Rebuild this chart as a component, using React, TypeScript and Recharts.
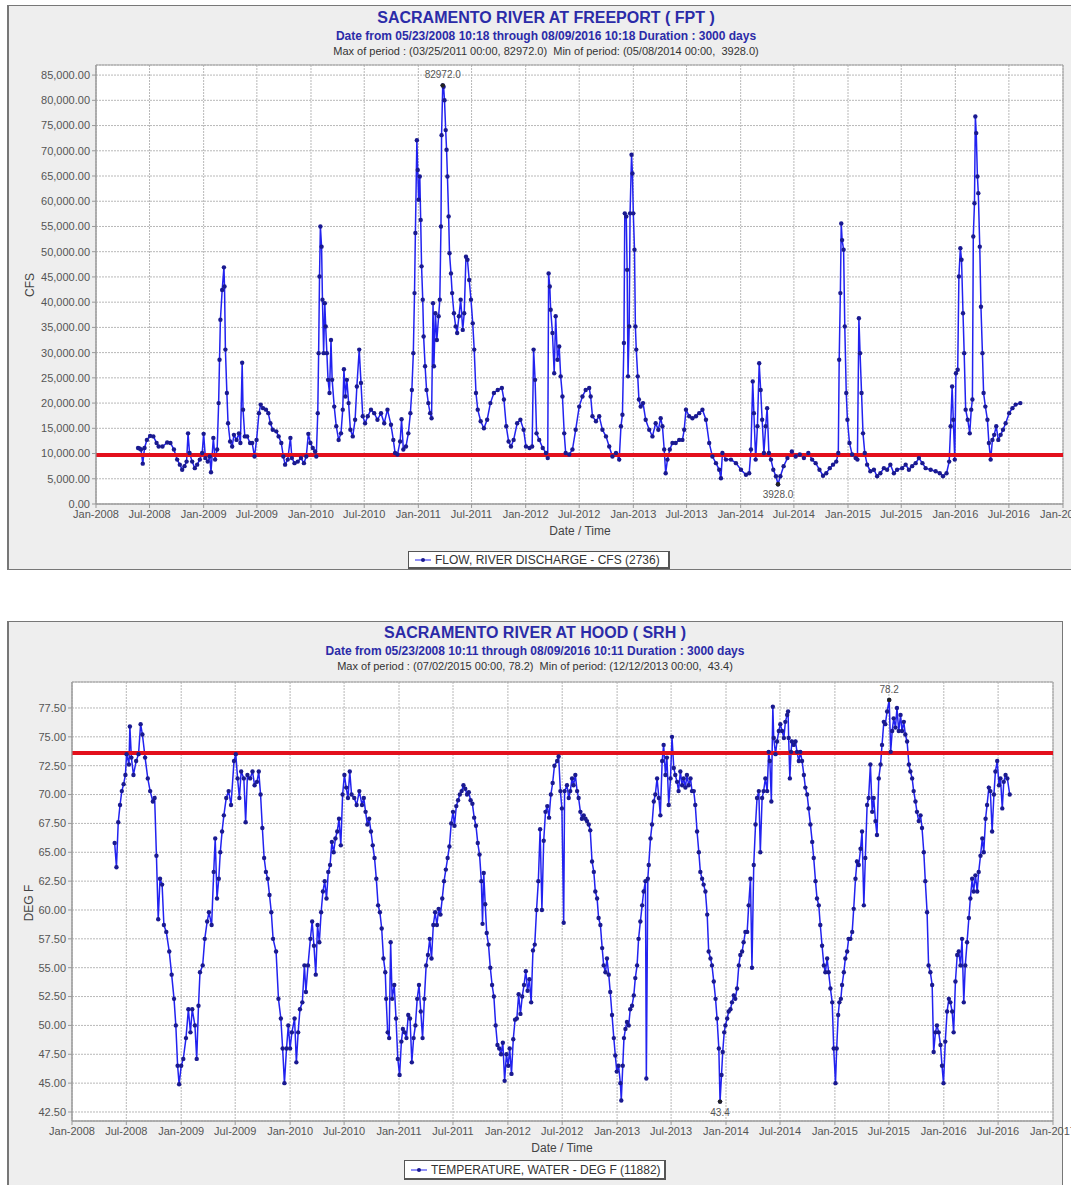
import React from 'react';
import { LineChart, Line, XAxis, YAxis, CartesianGrid, ReferenceLine, ReferenceDot, ReferenceArea } from 'recharts';

type Pt = [string, number];

// ---- Sacramento River at Freeport, flow (CFS) ----
const flow2008: Pt[] = [
  ['2008-05-23', 11100], ['2008-05-28', 11000], ['2008-06-02', 10800], ['2008-06-08', 8000], ['2008-06-14', 11100],
  ['2008-06-22', 12700], ['2008-07-03', 13500], ['2008-07-14', 13400], ['2008-07-25', 12100], ['2008-08-01', 11400],
  ['2008-08-14', 11400], ['2008-08-30', 12200], ['2008-09-10', 12100], ['2008-09-22', 10800], ['2008-10-03', 8800],
  ['2008-10-12', 7800], ['2008-10-20', 6800], ['2008-10-28', 7500], ['2008-11-04', 8400], ['2008-11-09', 14000],
  ['2008-11-14', 10100], ['2008-11-23', 8400], ['2008-12-02', 7100], ['2008-12-10', 7800], ['2008-12-19', 8800],
  ['2008-12-27', 10100],
];
const flow2009: Pt[] = [
  ['2009-01-01', 13900], ['2009-01-07', 9100], ['2009-01-15', 8400], ['2009-01-22', 9400], ['2009-01-26', 6300],
  ['2009-02-03', 13100], ['2009-02-09', 8800], ['2009-02-16', 10800], ['2009-02-21', 20000], ['2009-02-24', 28600],
  ['2009-02-27', 36500], ['2009-03-05', 42400], ['2009-03-11', 46900], ['2009-03-13', 43100], ['2009-03-16', 30600],
  ['2009-03-21', 22000], ['2009-03-25', 16000], ['2009-04-01', 12400], ['2009-04-08', 11400], ['2009-04-14', 13700],
  ['2009-04-23', 12700], ['2009-05-01', 14000], ['2009-05-06', 12100], ['2009-05-12', 28000], ['2009-05-15', 18700],
  ['2009-05-21', 13400], ['2009-05-29', 13400], ['2009-06-08', 12100], ['2009-06-15', 12100], ['2009-06-23', 9400],
  ['2009-06-30', 12700], ['2009-07-08', 18000], ['2009-07-14', 19700], ['2009-07-22', 19000], ['2009-08-01', 18700],
  ['2009-08-09', 18000], ['2009-08-16', 16000], ['2009-08-24', 14700], ['2009-09-05', 14400], ['2009-09-13', 13400],
  ['2009-09-22', 12100], ['2009-09-29', 9400], ['2009-10-05', 7800], ['2009-10-14', 8800], ['2009-10-23', 13100],
  ['2009-10-28', 9100], ['2009-11-06', 8100], ['2009-11-17', 8400], ['2009-11-28', 9100], ['2009-12-08', 8100],
  ['2009-12-16', 9400], ['2009-12-23', 13900], ['2009-12-30', 12100],
];
const flow2010: Pt[] = [
  ['2010-01-07', 11100], ['2010-01-15', 10400], ['2010-01-19', 9400], ['2010-01-24', 18000], ['2010-01-27', 29900],
  ['2010-01-30', 45100], ['2010-02-02', 55000], ['2010-02-06', 51000], ['2010-02-09', 40500], ['2010-02-13', 29900],
  ['2010-02-17', 39800], ['2010-02-20', 35200], ['2010-02-24', 29900], ['2010-02-28', 24600], ['2010-03-05', 22000],
  ['2010-03-10', 32500], ['2010-03-14', 24600], ['2010-03-21', 19300], ['2010-03-28', 15400], ['2010-04-05', 12700],
  ['2010-04-13', 14000], ['2010-04-19', 18700], ['2010-04-23', 26700], ['2010-04-28', 21300], ['2010-05-03', 24600],
  ['2010-05-09', 20000], ['2010-05-15', 14700], ['2010-05-23', 13400], ['2010-05-31', 16700], ['2010-06-06', 23300],
  ['2010-06-14', 30600], ['2010-06-20', 24000], ['2010-06-26', 17400], ['2010-07-04', 16000], ['2010-07-13', 17400],
  ['2010-07-24', 18700], ['2010-08-04', 18000], ['2010-08-15', 16700], ['2010-08-27', 18000], ['2010-09-07', 16000],
  ['2010-09-18', 18700], ['2010-09-30', 15700], ['2010-10-08', 12700], ['2010-10-14', 10100], ['2010-10-22', 9800],
  ['2010-10-31', 12400], ['2010-11-05', 16800], ['2010-11-11', 10800], ['2010-11-20', 11400], ['2010-11-28', 14000],
  ['2010-12-05', 18000], ['2010-12-10', 22600], ['2010-12-15', 29900], ['2010-12-19', 41800], ['2010-12-22', 53700],
  ['2010-12-27', 72100], ['2010-12-30', 66200],
];
const flow2011: Pt[] = [
  ['2011-01-02', 60300], ['2011-01-06', 64900], ['2011-01-09', 56300], ['2011-01-12', 47100], ['2011-01-16', 40500],
  ['2011-01-19', 33200], ['2011-01-24', 27300], ['2011-01-29', 22600], ['2011-02-04', 20000], ['2011-02-10', 18000],
  ['2011-02-15', 17000], ['2011-02-20', 39800], ['2011-02-23', 27300], ['2011-02-28', 37800], ['2011-03-05', 32500],
  ['2011-03-11', 37200], ['2011-03-15', 40500], ['2011-03-19', 55000], ['2011-03-21', 73100], ['2011-03-25', 82972],
  ['2011-03-28', 82700], ['2011-03-31', 80000], ['2011-04-04', 74100], ['2011-04-07', 70200], ['2011-04-10', 64900],
  ['2011-04-14', 57000], ['2011-04-17', 49700], ['2011-04-22', 45700], ['2011-04-26', 41800], ['2011-05-02', 37800],
  ['2011-05-08', 35200], ['2011-05-13', 33900], ['2011-05-19', 37200], ['2011-05-25', 40500], ['2011-06-01', 34500],
  ['2011-06-06', 37800], ['2011-06-12', 49000], ['2011-06-17', 48400], ['2011-06-23', 44400], ['2011-06-29', 40500],
  ['2011-07-05', 35800], ['2011-07-10', 30600], ['2011-07-16', 22000], ['2011-07-22', 18700], ['2011-08-01', 16400],
  ['2011-08-12', 15000], ['2011-08-23', 16700], ['2011-09-03', 20000], ['2011-09-15', 22000], ['2011-09-28', 22600],
  ['2011-10-12', 23000], ['2011-10-19', 20700], ['2011-10-27', 15400], ['2011-11-04', 12400], ['2011-11-12', 11400],
  ['2011-11-21', 12700], ['2011-12-03', 16000], ['2011-12-14', 16700], ['2011-12-25', 14700],
];
const flow2012: Pt[] = [
  ['2012-01-02', 11400], ['2012-01-14', 11100], ['2012-01-23', 11400], ['2012-01-28', 30600], ['2012-02-02', 24600],
  ['2012-02-07', 14000], ['2012-02-16', 12700], ['2012-02-28', 11100], ['2012-03-10', 10100], ['2012-03-16', 9100],
  ['2012-03-19', 45700], ['2012-03-23', 43100], ['2012-03-26', 38500], ['2012-04-01', 33900], ['2012-04-07', 25900],
  ['2012-04-12', 37200], ['2012-04-18', 28600], ['2012-04-24', 31200], ['2012-04-29', 25300], ['2012-05-05', 21300],
  ['2012-05-11', 14000], ['2012-05-16', 10100], ['2012-05-28', 9800], ['2012-06-08', 10800], ['2012-06-19', 14700],
  ['2012-07-01', 19300], ['2012-07-12', 21300], ['2012-07-23', 22600], ['2012-08-04', 23000], ['2012-08-09', 21300],
  ['2012-08-15', 17400], ['2012-08-27', 16400], ['2012-09-07', 17400], ['2012-09-18', 14700], ['2012-09-30', 13400],
  ['2012-10-11', 11400], ['2012-10-22', 9400], ['2012-11-03', 10100], ['2012-11-14', 8800], ['2012-11-20', 15400],
  ['2012-11-25', 17700], ['2012-11-30', 31900], ['2012-12-03', 57600], ['2012-12-08', 57000], ['2012-12-11', 46400],
  ['2012-12-14', 25300], ['2012-12-18', 35200], ['2012-12-21', 57600], ['2012-12-26', 69200], ['2012-12-29', 65500],
];
const flow2013: Pt[] = [
  ['2013-01-01', 57600], ['2013-01-05', 50400], ['2013-01-08', 35200], ['2013-01-11', 30600], ['2013-01-16', 25300],
  ['2013-01-20', 20700], ['2013-01-26', 19300], ['2013-02-03', 20000], ['2013-02-12', 16700], ['2013-02-24', 14700],
  ['2013-03-07', 13400], ['2013-03-18', 16000], ['2013-03-27', 14700], ['2013-04-04', 17000], ['2013-04-10', 15400],
  ['2013-04-16', 10800], ['2013-04-21', 6100], ['2013-04-27', 8800], ['2013-05-05', 10800], ['2013-05-14', 12100],
  ['2013-05-25', 12100], ['2013-06-06', 12700], ['2013-06-17', 12700], ['2013-06-23', 14700], ['2013-06-29', 18700],
  ['2013-07-10', 17400], ['2013-07-21', 17000], ['2013-08-02', 17400], ['2013-08-13', 18000], ['2013-08-24', 18700],
  ['2013-09-05', 16700], ['2013-09-16', 12100], ['2013-09-27', 9400], ['2013-10-09', 8100], ['2013-10-20', 6800],
  ['2013-10-26', 5100], ['2013-10-31', 10100], ['2013-11-12', 8800], ['2013-11-29', 8800], ['2013-12-16', 8100],
];
const flow2014: Pt[] = [
  ['2014-01-02', 6800], ['2014-01-19', 5800], ['2014-01-30', 6100], ['2014-02-05', 10800], ['2014-02-11', 24300],
  ['2014-02-15', 18000], ['2014-02-21', 8800], ['2014-02-27', 15400], ['2014-03-05', 27900], ['2014-03-10', 22600],
  ['2014-03-15', 16700], ['2014-03-21', 10100], ['2014-03-27', 15400], ['2014-04-01', 19000], ['2014-04-07', 10100],
  ['2014-04-14', 8800], ['2014-04-22', 6800], ['2014-05-01', 5500], ['2014-05-08', 3928], ['2014-05-16', 5500],
  ['2014-05-27', 7500], ['2014-06-09', 9100], ['2014-06-24', 10400], ['2014-07-07', 9400], ['2014-07-21', 9800],
  ['2014-08-04', 9100], ['2014-08-19', 10100], ['2014-09-01', 8800], ['2014-09-13', 8100], ['2014-09-26', 6800],
  ['2014-10-08', 5600], ['2014-10-19', 6100], ['2014-10-31', 7100], ['2014-11-11', 7800], ['2014-11-22', 8400],
  ['2014-11-29', 10100], ['2014-12-02', 28600], ['2014-12-06', 41800], ['2014-12-09', 55600], ['2014-12-12', 52300],
  ['2014-12-17', 50400], ['2014-12-21', 35200], ['2014-12-26', 22000], ['2014-12-30', 16700],
];
const flow2015: Pt[] = [
  ['2015-01-06', 12100], ['2015-01-15', 9800], ['2015-01-27', 9100], ['2015-02-02', 8800], ['2015-02-07', 36800],
  ['2015-02-11', 29900], ['2015-02-16', 22000], ['2015-02-21', 14000], ['2015-02-27', 10100], ['2015-03-07', 7800],
  ['2015-03-18', 6500], ['2015-03-30', 6800], ['2015-04-10', 5500], ['2015-04-21', 6100], ['2015-05-03', 7100],
  ['2015-05-14', 6800], ['2015-05-25', 7800], ['2015-06-06', 6100], ['2015-06-17', 6800], ['2015-07-04', 7100],
  ['2015-07-16', 7800], ['2015-07-27', 6800], ['2015-08-07', 7500], ['2015-08-19', 8100], ['2015-08-30', 9100],
  ['2015-09-11', 8100], ['2015-09-22', 7100], ['2015-10-09', 6800], ['2015-10-26', 6500], ['2015-11-09', 6100],
  ['2015-11-20', 5500], ['2015-12-02', 6100], ['2015-12-11', 8400], ['2015-12-16', 15400], ['2015-12-21', 23300],
  ['2015-12-25', 16700], ['2015-12-30', 8800],
];
const flow2016: Pt[] = [
  ['2016-01-03', 25900], ['2016-01-09', 26600], ['2016-01-13', 45100], ['2016-01-18', 50700], ['2016-01-22', 48400],
  ['2016-01-27', 37800], ['2016-01-31', 29900], ['2016-02-05', 18700], ['2016-02-12', 16700], ['2016-02-19', 14000],
  ['2016-02-24', 18700], ['2016-02-28', 20700], ['2016-03-02', 53000], ['2016-03-06', 59600], ['2016-03-09', 76800],
  ['2016-03-12', 73500], ['2016-03-16', 64900], ['2016-03-19', 61600], ['2016-03-24', 51000], ['2016-03-28', 39100],
  ['2016-04-02', 29900], ['2016-04-06', 22000], ['2016-04-12', 19300], ['2016-04-19', 16700], ['2016-04-24', 12100],
  ['2016-04-30', 8800], ['2016-05-06', 12700], ['2016-05-12', 13700], ['2016-05-19', 15400], ['2016-05-26', 12700],
  ['2016-06-03', 13700], ['2016-06-11', 14700], ['2016-06-20', 16000], ['2016-07-02', 18000], ['2016-07-13', 19000],
  ['2016-07-24', 19700], ['2016-08-09', 20000],
];

// ---- Sacramento River at Hood, water temperature (DEG F) ----
const temp2008: Pt[] = [
  ['2008-05-23', 65.8], ['2008-05-29', 63.7], ['2008-06-04', 67.6], ['2008-06-10', 69.1], ['2008-06-16', 70.3],
  ['2008-06-22', 70.9], ['2008-06-28', 71.7], ['2008-07-02', 73.5], ['2008-07-10', 72.6], ['2008-07-13', 75.9],
  ['2008-07-18', 73.2], ['2008-07-25', 71.7], ['2008-08-03', 72.9], ['2008-08-11', 73.5], ['2008-08-18', 76.1],
  ['2008-08-24', 75.2], ['2008-09-02', 73.2], ['2008-09-11', 71.4], ['2008-09-19', 70.3], ['2008-09-28', 69.4],
  ['2008-10-04', 69.7], ['2008-10-10', 64.7], ['2008-10-16', 59.2], ['2008-10-22', 62.7], ['2008-10-29', 62.2],
  ['2008-11-04', 58.7], ['2008-11-12', 58.1], ['2008-11-22', 56.4], ['2008-11-30', 54.4], ['2008-12-08', 52.3],
  ['2008-12-14', 50.0], ['2008-12-20', 46.5], ['2008-12-25', 44.9],
];
const temp2009: Pt[] = [
  ['2009-01-01', 46.5], ['2009-01-08', 47.1], ['2009-01-17', 48.9], ['2009-01-25', 51.4], ['2009-02-01', 49.4],
  ['2009-02-07', 51.4], ['2009-02-16', 50.0], ['2009-02-22', 47.1], ['2009-02-28', 51.7], ['2009-03-05', 54.6],
  ['2009-03-14', 55.2], ['2009-03-21', 57.5], ['2009-03-29', 59.0], ['2009-04-04', 59.8], ['2009-04-13', 58.7],
  ['2009-04-20', 63.3], ['2009-04-25', 66.2], ['2009-05-01', 61.0], ['2009-05-07', 62.7], ['2009-05-12', 65.0],
  ['2009-05-18', 66.8], ['2009-05-24', 68.2], ['2009-06-01', 69.7], ['2009-06-09', 70.3], ['2009-06-17', 69.1],
  ['2009-06-27', 72.9], ['2009-07-03', 73.5], ['2009-07-09', 71.4], ['2009-07-15', 69.7], ['2009-07-21', 72.0],
  ['2009-07-30', 71.4], ['2009-08-05', 67.6], ['2009-08-11', 71.7], ['2009-08-20', 71.4], ['2009-08-28', 72.0],
  ['2009-09-04', 70.8], ['2009-09-12', 71.1], ['2009-09-18', 72.0], ['2009-09-24', 70.0], ['2009-09-30', 67.1],
  ['2009-10-06', 64.5], ['2009-10-12', 63.3], ['2009-10-18', 62.7], ['2009-10-24', 61.3], ['2009-10-30', 59.8],
  ['2009-11-05', 57.5], ['2009-11-15', 56.4], ['2009-11-23', 52.3], ['2009-12-01', 50.6], ['2009-12-07', 48.0],
  ['2009-12-13', 45.0], ['2009-12-20', 48.0], ['2009-12-26', 50.0],
];
const temp2010: Pt[] = [
  ['2010-01-01', 48.0], ['2010-01-07', 49.4], ['2010-01-16', 50.6], ['2010-01-22', 46.8], ['2010-01-28', 49.4],
  ['2010-02-03', 51.4], ['2010-02-11', 52.0], ['2010-02-18', 55.2], ['2010-02-23', 52.9], ['2010-03-02', 55.2],
  ['2010-03-10', 57.5], ['2010-03-16', 59.0], ['2010-03-22', 56.9], ['2010-03-28', 54.4], ['2010-04-03', 58.7],
  ['2010-04-09', 57.2], ['2010-04-15', 59.8], ['2010-04-21', 61.6], ['2010-04-27', 62.5], ['2010-05-03', 61.0],
  ['2010-05-09', 63.3], ['2010-05-15', 63.9], ['2010-05-21', 65.9], ['2010-05-27', 65.0], ['2010-06-02', 66.2],
  ['2010-06-08', 66.8], ['2010-06-14', 67.9], ['2010-06-20', 65.6], ['2010-06-26', 70.0], ['2010-07-02', 71.7],
  ['2010-07-08', 70.6], ['2010-07-14', 69.7], ['2010-07-20', 72.0], ['2010-07-26', 70.0], ['2010-08-04', 69.7],
  ['2010-08-12', 69.1], ['2010-08-21', 70.3], ['2010-08-30', 69.1], ['2010-09-05', 69.7], ['2010-09-11', 68.5],
  ['2010-09-17', 67.4], ['2010-09-23', 67.9], ['2010-09-29', 66.8], ['2010-10-05', 65.6], ['2010-10-11', 64.5],
  ['2010-10-17', 62.7], ['2010-10-23', 60.4], ['2010-10-29', 59.8], ['2010-11-04', 58.4], ['2010-11-10', 55.8],
  ['2010-11-16', 54.6], ['2010-11-19', 52.3], ['2010-11-24', 49.4], ['2010-11-29', 48.9], ['2010-12-04', 57.2],
  ['2010-12-09', 52.3], ['2010-12-16', 53.5], ['2010-12-22', 50.6], ['2010-12-28', 47.1],
];
const temp2011: Pt[] = [
  ['2011-01-03', 45.7], ['2011-01-09', 48.6], ['2011-01-14', 49.7], ['2011-01-20', 49.4], ['2011-01-26', 48.9],
  ['2011-02-01', 50.9], ['2011-02-07', 50.6], ['2011-02-13', 46.8], ['2011-02-19', 48.9], ['2011-02-25', 50.0],
  ['2011-03-03', 52.3], ['2011-03-09', 53.5], ['2011-03-15', 51.2], ['2011-03-21', 48.9], ['2011-03-27', 52.3],
  ['2011-04-02', 55.2], ['2011-04-08', 56.1], ['2011-04-14', 57.5], ['2011-04-20', 55.8], ['2011-04-26', 58.7],
  ['2011-05-02', 59.8], ['2011-05-08', 58.7], ['2011-05-14', 60.1], ['2011-05-20', 59.6], ['2011-05-26', 61.0],
  ['2011-06-01', 62.5], ['2011-06-07', 63.5], ['2011-06-13', 64.5], ['2011-06-19', 65.5], ['2011-06-25', 67.5],
  ['2011-07-01', 68.5], ['2011-07-06', 67.3], ['2011-07-12', 69.0], ['2011-07-18', 69.5], ['2011-07-24', 70.0],
  ['2011-07-30', 70.3], ['2011-08-05', 70.8], ['2011-08-11', 70.5], ['2011-08-17', 70.0], ['2011-08-23', 70.2],
  ['2011-08-29', 69.5], ['2011-09-04', 69.2], ['2011-09-10', 68.0], ['2011-09-16', 67.3], ['2011-09-22', 65.8],
  ['2011-09-28', 64.8], ['2011-10-04', 62.5], ['2011-10-08', 58.8], ['2011-10-12', 63.2], ['2011-10-17', 60.5],
  ['2011-10-22', 58.0], ['2011-10-28', 57.0], ['2011-11-03', 55.0], ['2011-11-09', 53.5], ['2011-11-15', 52.5],
  ['2011-11-21', 50.0], ['2011-11-27', 48.3], ['2011-12-03', 48.0], ['2011-12-09', 47.5], ['2011-12-15', 48.5],
  ['2011-12-21', 45.2], ['2011-12-27', 47.5],
];
const temp2012: Pt[] = [
  ['2012-01-02', 46.5], ['2012-01-07', 48.0], ['2012-01-13', 45.8], ['2012-01-19', 48.8], ['2012-01-25', 50.5],
  ['2012-01-31', 50.6], ['2012-02-06', 52.7], ['2012-02-12', 51.0], ['2012-02-18', 52.5], ['2012-02-24', 53.5],
  ['2012-03-01', 54.7], ['2012-03-07', 53.0], ['2012-03-13', 54.0], ['2012-03-19', 52.0], ['2012-03-25', 56.5],
  ['2012-03-31', 57.0], ['2012-04-06', 60.0], ['2012-04-12', 62.5], ['2012-04-18', 67.0], ['2012-04-24', 60.0],
  ['2012-04-30', 66.0], ['2012-05-06', 68.5], ['2012-05-12', 69.0], ['2012-05-18', 68.0], ['2012-05-24', 70.0],
  ['2012-05-30', 71.0], ['2012-06-05', 72.5], ['2012-06-14', 72.9], ['2012-06-19', 73.3], ['2012-06-25', 70.3],
  ['2012-06-30', 68.8], ['2012-07-06', 58.9], ['2012-07-09', 70.3], ['2012-07-17', 70.8], ['2012-07-23', 69.7],
  ['2012-07-28', 70.3], ['2012-08-03', 71.4], ['2012-08-08', 70.8], ['2012-08-14', 71.7], ['2012-08-20', 70.3],
  ['2012-08-25', 69.7], ['2012-08-31', 68.5], ['2012-09-05', 67.9], ['2012-09-11', 68.2], ['2012-09-17', 67.9],
  ['2012-09-22', 67.7], ['2012-09-28', 67.4], ['2012-10-03', 66.9], ['2012-10-09', 64.2], ['2012-10-15', 63.3],
  ['2012-10-20', 61.6], ['2012-10-26', 61.0], ['2012-10-31', 59.3], ['2012-11-06', 58.7], ['2012-11-12', 56.7],
  ['2012-11-17', 55.2], ['2012-11-23', 54.6], ['2012-11-28', 55.8], ['2012-12-04', 54.4], ['2012-12-09', 52.9],
  ['2012-12-15', 50.9], ['2012-12-21', 48.9], ['2012-12-26', 47.4], ['2012-12-31', 46.0],
];
const temp2013: Pt[] = [
  ['2013-01-06', 46.5], ['2013-01-12', 45.0], ['2013-01-15', 43.5], ['2013-01-20', 46.5], ['2013-01-24', 48.9],
  ['2013-01-29', 49.7], ['2013-02-03', 50.3], ['2013-02-09', 50.0], ['2013-02-14', 51.4], ['2013-02-20', 51.7],
  ['2013-02-26', 52.6], ['2013-03-03', 54.1], ['2013-03-09', 55.2], ['2013-03-14', 57.5], ['2013-03-20', 59.0],
  ['2013-03-26', 60.4], ['2013-03-31', 61.6], ['2013-04-06', 62.5], ['2013-04-09', 45.4], ['2013-04-14', 62.7],
  ['2013-04-17', 63.9], ['2013-04-23', 66.2], ['2013-04-28', 67.4], ['2013-05-04', 69.4], ['2013-05-09', 70.0],
  ['2013-05-15', 71.4], ['2013-05-21', 69.7], ['2013-05-26', 68.2], ['2013-06-01', 72.9], ['2013-06-06', 74.3],
  ['2013-06-12', 71.7], ['2013-06-17', 73.2], ['2013-06-23', 69.1], ['2013-06-29', 71.4], ['2013-07-04', 75.0],
  ['2013-07-10', 72.3], ['2013-07-15', 71.7], ['2013-07-21', 71.1], ['2013-07-26', 70.3], ['2013-08-01', 72.0],
  ['2013-08-07', 70.8], ['2013-08-12', 71.4], ['2013-08-18', 70.6], ['2013-08-23', 71.7], ['2013-08-29', 70.8],
  ['2013-09-04', 71.4], ['2013-09-09', 70.3], ['2013-09-15', 70.3], ['2013-09-20', 69.1], ['2013-09-26', 66.8],
  ['2013-10-02', 65.0], ['2013-10-07', 63.3], ['2013-10-13', 62.7], ['2013-10-18', 62.2], ['2013-10-24', 61.6],
  ['2013-10-30', 59.6], ['2013-11-04', 56.4], ['2013-11-10', 55.8], ['2013-11-15', 55.2], ['2013-11-21', 53.8],
  ['2013-11-27', 52.3], ['2013-12-02', 50.6], ['2013-12-08', 48.0], ['2013-12-12', 43.4], ['2013-12-17', 45.7],
  ['2013-12-21', 47.7], ['2013-12-26', 49.4], ['2013-12-30', 50.0],
];
const temp2014: Pt[] = [
  ['2014-01-05', 50.6], ['2014-01-10', 51.2], ['2014-01-16', 51.4], ['2014-01-21', 52.0], ['2014-01-27', 52.6],
  ['2014-02-01', 52.3], ['2014-02-07', 53.2], ['2014-02-13', 55.2], ['2014-02-18', 56.1], ['2014-02-24', 56.4],
  ['2014-03-01', 57.2], ['2014-03-07', 58.1], ['2014-03-13', 58.1], ['2014-03-18', 60.4], ['2014-03-24', 62.7],
  ['2014-03-29', 55.0], ['2014-04-04', 63.9], ['2014-04-10', 67.4], ['2014-04-15', 69.7], ['2014-04-21', 70.3],
  ['2014-04-26', 65.0], ['2014-05-02', 69.7], ['2014-05-07', 70.3], ['2014-05-13', 71.4], ['2014-05-19', 70.3],
  ['2014-05-24', 73.7], ['2014-05-28', 72.9], ['2014-06-02', 69.4], ['2014-06-07', 77.6], ['2014-06-10', 74.9],
  ['2014-06-16', 73.5], ['2014-06-21', 74.6], ['2014-06-27', 75.5], ['2014-07-02', 76.1], ['2014-07-08', 75.5],
  ['2014-07-14', 74.9], ['2014-07-19', 76.3], ['2014-07-25', 76.9], ['2014-07-28', 77.2], ['2014-07-30', 74.9],
  ['2014-08-03', 71.4], ['2014-08-07', 73.7], ['2014-08-10', 74.6], ['2014-08-16', 74.3], ['2014-08-22', 74.6],
  ['2014-08-27', 73.7], ['2014-09-02', 72.9], ['2014-09-07', 73.7], ['2014-09-13', 72.9], ['2014-09-19', 71.7],
  ['2014-09-24', 70.6], ['2014-09-30', 70.0], ['2014-10-05', 68.8], ['2014-10-11', 67.4], ['2014-10-17', 65.9],
  ['2014-10-22', 64.5], ['2014-10-28', 62.5], ['2014-11-02', 61.0], ['2014-11-08', 60.4], ['2014-11-13', 58.7],
  ['2014-11-19', 56.9], ['2014-11-25', 55.2], ['2014-11-30', 54.6], ['2014-12-06', 55.8], ['2014-12-11', 54.6],
  ['2014-12-17', 53.2], ['2014-12-23', 52.0], ['2014-12-28', 48.0],
];
const temp2015: Pt[] = [
  ['2015-01-03', 45.0], ['2015-01-07', 48.0], ['2015-01-12', 50.9], ['2015-01-16', 52.0], ['2015-01-21', 52.3],
  ['2015-01-25', 53.5], ['2015-01-31', 54.6], ['2015-02-05', 55.8], ['2015-02-11', 56.4], ['2015-02-16', 57.5],
  ['2015-02-22', 57.5], ['2015-02-28', 58.1], ['2015-03-05', 60.1], ['2015-03-11', 62.7], ['2015-03-16', 64.2],
  ['2015-03-22', 63.9], ['2015-03-28', 65.3], ['2015-04-02', 66.8], ['2015-04-08', 60.4], ['2015-04-13', 64.5],
  ['2015-04-19', 69.1], ['2015-04-24', 69.7], ['2015-04-30', 72.6], ['2015-05-06', 68.5], ['2015-05-11', 69.7],
  ['2015-05-17', 67.7], ['2015-05-22', 66.5], ['2015-05-28', 71.4], ['2015-06-03', 72.6], ['2015-06-08', 74.3],
  ['2015-06-14', 76.3], ['2015-06-19', 76.1], ['2015-06-25', 77.2], ['2015-07-02', 78.2], ['2015-07-07', 73.7],
  ['2015-07-12', 75.5], ['2015-07-17', 76.6], ['2015-07-23', 75.8], ['2015-07-28', 77.5], ['2015-08-03', 75.5],
  ['2015-08-09', 76.9], ['2015-08-14', 75.5], ['2015-08-20', 76.3], ['2015-08-25', 75.2], ['2015-08-31', 74.6],
  ['2015-09-06', 72.6], ['2015-09-11', 72.0], ['2015-09-17', 71.4], ['2015-09-22', 70.3], ['2015-09-28', 69.4],
  ['2015-10-03', 68.5], ['2015-10-09', 67.7], ['2015-10-15', 68.2], ['2015-10-20', 67.1], ['2015-10-26', 65.0],
  ['2015-10-31', 62.5], ['2015-11-06', 59.8], ['2015-11-11', 55.2], ['2015-11-17', 54.6], ['2015-11-23', 53.5],
  ['2015-11-28', 47.7], ['2015-12-04', 49.4], ['2015-12-09', 50.0], ['2015-12-15', 49.4], ['2015-12-21', 48.3],
  ['2015-12-26', 46.5], ['2015-12-31', 45.0],
];
const temp2016: Pt[] = [
  ['2016-01-06', 48.6], ['2016-01-12', 51.2], ['2016-01-18', 52.3], ['2016-01-23', 52.0], ['2016-01-29', 51.2],
  ['2016-02-03', 49.4], ['2016-02-09', 53.8], ['2016-02-15', 56.1], ['2016-02-20', 56.4], ['2016-02-26', 55.2],
  ['2016-03-02', 57.5], ['2016-03-08', 52.0], ['2016-03-13', 55.2], ['2016-03-19', 57.2], ['2016-03-25', 59.3],
  ['2016-03-30', 61.0], ['2016-04-05', 62.7], ['2016-04-10', 61.6], ['2016-04-16', 63.0], ['2016-04-22', 61.6],
  ['2016-04-27', 63.3], ['2016-05-03', 64.7], ['2016-05-09', 66.2], ['2016-05-14', 65.0], ['2016-05-20', 67.9],
  ['2016-05-25', 69.1], ['2016-05-31', 70.6], ['2016-06-05', 70.3], ['2016-06-11', 66.8], ['2016-06-17', 70.0],
  ['2016-06-22', 72.0], ['2016-06-28', 72.9], ['2016-07-04', 70.8], ['2016-07-09', 71.4], ['2016-07-15', 68.8],
  ['2016-07-20', 71.1], ['2016-07-26', 71.7], ['2016-08-01', 71.4], ['2016-08-09', 70.0],
];

const dateTickLabels = [
  'Jan-2008', 'Jul-2008', 'Jan-2009', 'Jul-2009', 'Jan-2010', 'Jul-2010', 'Jan-2011', 'Jul-2011', 'Jan-2012',
  'Jul-2012', 'Jan-2013', 'Jul-2013', 'Jan-2014', 'Jul-2014', 'Jan-2015', 'Jul-2015', 'Jan-2016', 'Jul-2016', 'Jan-2017',
];
const flowTicks = [0, 5000, 10000, 15000, 20000, 25000, 30000, 35000, 40000, 45000, 50000, 55000, 60000, 65000, 70000, 75000, 80000, 85000];
const tempTicks = [42.5, 45, 47.5, 50, 52.5, 55, 57.5, 60, 62.5, 65, 67.5, 70, 72.5, 75, 77.5];

const flowThreshold = 9700;
const tempThreshold = 73.6;
const flowMax: Pt = ['2011-03-25', 82972];
const flowMin: Pt = ['2014-05-08', 3928];
const tempMax: Pt = ['2015-07-02', 78.2];
const tempMin: Pt = ['2013-12-12', 43.4];

const toTime = (d: string) => Date.parse(d + 'T00:00:00Z');
const monthIdx: Record<string, number> = { Jan: 0, Jul: 6 };
const dateTicks = dateTickLabels.map((l) => Date.UTC(Number(l.slice(4)), monthIdx[l.slice(0, 3)], 1));
const fmtDate = (t: number) => {
  const d = new Date(t);
  return (d.getUTCMonth() === 0 ? 'Jan' : 'Jul') + '-' + d.getUTCFullYear();
};
const build = (...parts: Pt[][]) => parts.flat().map(([d, v]) => ({ t: toTime(d), v }));

const flowData = build(flow2008, flow2009, flow2010, flow2011, flow2012, flow2013, flow2014, flow2015, flow2016);
const tempData = build(temp2008, temp2009, temp2010, temp2011, temp2012, temp2013, temp2014, temp2015, temp2016);

const FONT = '"Liberation Sans", Arial, Helvetica, sans-serif';
const BLUE_TITLE = '#2b2ba8';

interface ChartProps {
  chartTop: number;
  plotLeft: number;
  plotRight: number;
  plotTop: number;
  plotBottom: number;
  data: { t: number; v: number }[];
  yDomain: [number, number];
  yTicks: number[];
  yFmt: (v: number) => string;
  threshold: number;
  maxPt: Pt;
  minPt: Pt;
  maxLabel: string;
  minLabel: string;
}

const CHART_H = 560;

function SeriesChart(p: ChartProps) {
  const xDomain: [number, number] = [dateTicks[0], dateTicks[dateTicks.length - 1]];
  const tick = { fill: '#555', fontSize: 11, fontFamily: FONT };
  return (
    <div style={{ position: 'absolute', left: 0, top: p.chartTop }}>
      <LineChart
        width={1071}
        height={CHART_H}
        data={p.data}
        margin={{ top: p.plotTop - p.chartTop, right: 1071 - p.plotRight, left: 0, bottom: 0 }}
      >
        <CartesianGrid stroke="#b8b8b8" strokeDasharray="2 1" fill="#ffffff" />
        <XAxis
          dataKey="t"
          type="number"
          scale="time"
          domain={xDomain}
          ticks={dateTicks}
          tickFormatter={fmtDate}
          interval={0}
          allowDataOverflow
          height={p.chartTop + CHART_H - p.plotBottom}
          tick={tick}
          tickSize={4}
          tickMargin={2}
          stroke="#999"
        />
        <YAxis
          type="number"
          domain={p.yDomain}
          ticks={p.yTicks}
          tickFormatter={p.yFmt}
          interval={0}
          allowDataOverflow
          width={p.plotLeft}
          tick={tick}
          tickSize={4}
          tickMargin={2}
          stroke="#999"
        />
        <ReferenceArea x1={xDomain[0]} x2={xDomain[1]} y1={p.yDomain[0]} y2={p.yDomain[1]} fill="none" stroke="#a0a0a0" />
        <Line
          type="linear"
          dataKey="v"
          stroke="#2222f0"
          strokeWidth={1.5}
          dot={{ r: 2.2, fill: '#1a1a90', stroke: 'none' }}
          isAnimationActive={false}
        />
        <ReferenceLine y={p.threshold} stroke="#e3101c" strokeWidth={4} />
        <ReferenceDot
          x={toTime(p.maxPt[0])}
          y={p.maxPt[1]}
          r={2.2}
          fill="#222"
          stroke="none"
          label={{ value: p.maxLabel, position: 'top', fill: '#555', fontSize: 10, fontFamily: FONT }}
        />
        <ReferenceDot
          x={toTime(p.minPt[0])}
          y={p.minPt[1]}
          r={2.2}
          fill="#222"
          stroke="none"
          label={{ value: p.minLabel, position: 'bottom', fill: '#555', fontSize: 10, fontFamily: FONT }}
        />
      </LineChart>
    </div>
  );
}

function Legend({ left, top, width, height, text }: { left: number; top: number; width: number; height: number; text: string }) {
  return (
    <div
      style={{
        position: 'absolute', left, top, width, height, boxSizing: 'border-box', background: '#fff',
        border: '1px solid #555', borderRightWidth: 2, borderBottomWidth: 2, display: 'flex', alignItems: 'center',
        paddingLeft: 6, fontFamily: FONT, fontSize: 12, color: '#333', whiteSpace: 'nowrap',
      }}
    >
      <svg width={16} height={8} style={{ marginRight: 4 }}>
        <line x1={0} y1={4} x2={16} y2={4} stroke="#2222f0" strokeWidth={1} />
        <circle cx={8} cy={4} r={2} fill="#1a1a90" />
      </svg>
      {text}
    </div>
  );
}

function Heading({ cx, top, title, sub, extremes }: { cx: number; top: number; title: string; sub: string; extremes: string }) {
  const row = (t: number, h: number, style: React.CSSProperties, text: string) => (
    <div style={{ position: 'absolute', left: cx - 400, width: 800, top: t, height: h, lineHeight: h + 'px', textAlign: 'center', whiteSpace: 'pre', fontFamily: FONT, ...style }}>
      {text}
    </div>
  );
  return (
    <>
      {row(top, 20, { fontSize: 16, fontWeight: 'bold', color: BLUE_TITLE }, title)}
      {row(top + 21, 14, { fontSize: 12, fontWeight: 'bold', color: BLUE_TITLE }, sub)}
      {row(top + 36, 14, { fontSize: 11, color: '#333' }, extremes)}
    </>
  );
}

function AxisTitle({ x, y, text, rotate }: { x: number; y: number; text: string; rotate?: boolean }) {
  return (
    <div
      style={{
        position: 'absolute', left: x - 60, top: y - 8, width: 120, height: 16, lineHeight: '16px', textAlign: 'center',
        fontFamily: FONT, fontSize: 12, color: '#444', transform: rotate ? 'rotate(-90deg)' : undefined,
      }}
    >
      {text}
    </div>
  );
}

export default function App() {
  const fmtFlow = (v: number) => v.toLocaleString('en-US', { minimumFractionDigits: 2, maximumFractionDigits: 2 });
  const fmtTemp = (v: number) => v.toFixed(2);
  return (
    <div style={{ position: 'absolute', left: 0, top: 0, width: 1071, height: 1185, overflow: 'hidden', background: '#fff' }}>
      {/* Freeport panel */}
      <div style={{ position: 'absolute', left: 7, top: 5, width: 1090, height: 565, boxSizing: 'border-box', background: '#eeeeee', border: '1px solid #777', borderLeftWidth: 2 }} />
      <Heading
        cx={546}
        top={8}
        title="SACRAMENTO RIVER AT FREEPORT ( FPT )"
        sub="Date from 05/23/2008 10:18 through 08/09/2016 10:18 Duration : 3000 days"
        extremes="Max of period : (03/25/2011 00:00, 82972.0)  Min of period: (05/08/2014 00:00,  3928.0)"
      />
      <SeriesChart
        chartTop={0}
        plotLeft={96}
        plotRight={1063}
        plotTop={65}
        plotBottom={504}
        data={flowData}
        yDomain={[0, 87000]}
        yTicks={flowTicks}
        yFmt={fmtFlow}
        threshold={flowThreshold}
        maxPt={flowMax}
        minPt={flowMin}
        maxLabel="82972.0"
        minLabel="3928.0"
      />
      <AxisTitle x={30} y={285} text="CFS" rotate />
      <AxisTitle x={580} y={531} text="Date / Time" />
      <Legend left={408} top={551} width={262} height={18} text="FLOW, RIVER DISCHARGE - CFS (2736)" />

      {/* Hood panel */}
      <div style={{ position: 'absolute', left: 7, top: 621, width: 1056, height: 580, boxSizing: 'border-box', background: '#eeeeee', border: '1px solid #777', borderLeftWidth: 2 }} />
      <Heading
        cx={535}
        top={623}
        title="SACRAMENTO RIVER AT HOOD ( SRH )"
        sub="Date from 05/23/2008 10:11 through 08/09/2016 10:11 Duration : 3000 days"
        extremes="Max of period : (07/02/2015 00:00, 78.2)  Min of period: (12/12/2013 00:00,  43.4)"
      />
      <SeriesChart
        chartTop={600}
        plotLeft={72}
        plotRight={1053}
        plotTop={682}
        plotBottom={1121}
        data={tempData}
        yDomain={[41.72, 79.75]}
        yTicks={tempTicks}
        yFmt={fmtTemp}
        threshold={tempThreshold}
        maxPt={tempMax}
        minPt={tempMin}
        maxLabel="78.2"
        minLabel="43.4"
      />
      <AxisTitle x={29} y={903} text="DEG F" rotate />
      <AxisTitle x={562} y={1148} text="Date / Time" />
      <Legend left={404} top={1160} width={262} height={20} text="TEMPERATURE, WATER - DEG F (11882)" />
    </div>
  );
}
